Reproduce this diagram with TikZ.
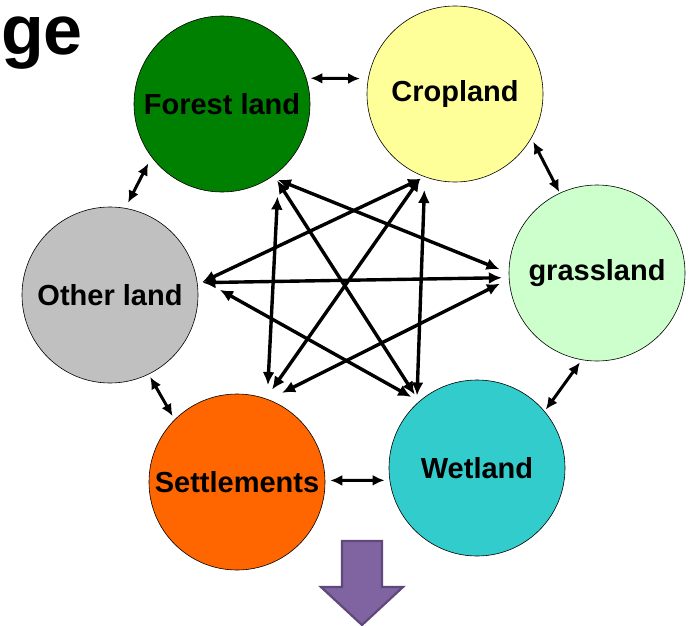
\documentclass[tikz,border=0pt]{standalone}
\usepackage{fontspec}
\setmainfont{Liberation Sans}
\usetikzlibrary{arrows.meta}
\definecolor{forestc}{RGB}{0,128,0}
\definecolor{cropc}{RGB}{255,255,153}
\definecolor{grassc}{RGB}{204,255,204}
\definecolor{otherc}{RGB}{192,192,192}
\definecolor{settlec}{RGB}{255,102,0}
\definecolor{wetc}{RGB}{51,204,204}
\definecolor{arrowfill}{RGB}{128,100,162}
\definecolor{arrowline}{RGB}{95,73,122}
\begin{document}
\begin{tikzpicture}[x=1pt,y=-1pt,
  land/.style={circle, draw=black, line width=0.6pt, minimum size=176pt, inner sep=0pt,
    font=\fontsize{29}{32}\selectfont\bfseries, text=black},
  link/.style={line width=3pt, {Latex[length=12pt,width=11pt]}-{Latex[length=12pt,width=11pt]}},
  cross/.style={line width=3.4pt, {Latex[length=13pt,width=12pt]}-{Latex[length=13pt,width=12pt]}},
  bigarrow/.style={fill=arrowfill, draw=arrowline, line width=2.2pt, line join=miter}
]
\useasboundingbox (0,0) rectangle (693,626);
\fill[white] (0,0) rectangle (693,626);

\node[anchor=base west, inner sep=0pt, font=\fontsize{70}{74}\selectfont\bfseries] (title) at (1,55) {ge};

\node[land, fill=forestc] (forest) at (222,104) {Forest land};
\node[land, fill=cropc]   (crop)   at (455,94)  {Cropland};
\node[land, fill=grassc]  (grass)  at (597,273) {grassland};
\node[land, fill=otherc]  (other)  at (110,295) {Other land};
\node[land, fill=settlec] (settle) at (237,482) {Settlements};
\node[land, fill=wetc]    (wet)    at (477,468) {Wetland};

% neighbours
\draw[link, shorten <=4pt, shorten >=8pt] (forest.17) -- (crop.170);
\draw[link, shorten <=4pt, shorten >=1pt] (crop.-30) -- (grass.115);
\draw[link, shorten <=3pt, shorten >=2pt] (grass.-100) -- (wet.40);
\draw[link, shorten <=5pt, shorten >=5pt] (settle.1) -- (wet.188);
\draw[link, shorten <=3pt, shorten >=4pt] (other.-64) -- (settle.135);
\draw[link, shorten <=7pt, shorten >=6pt] (forest.217) -- (other.80);

% cross links
\draw[cross, shorten <=7pt, shorten >=10pt] (forest.-56) -- (grass.180);
\draw[cross, shorten <=6pt, shorten >=8pt]  (forest.-54) -- (wet.131);
\draw[cross, shorten <=25pt, shorten >=14pt] (forest.-50) -- (settle.70);
\draw[cross, shorten <=4pt, shorten >=5pt]  (crop.-110) -- (other.7);
\draw[cross, shorten <=3pt, shorten >=11pt] (crop.-112) -- (settle.71);
\draw[cross, shorten <=13pt, shorten >=8pt] (crop.-110) -- (wet.133);
\draw[cross, shorten <=7pt, shorten >=5pt]  (grass.183) -- (other.8);
\draw[cross, shorten <=10pt, shorten >=15pt] (grass.184) -- (settle.69);
\draw[cross, shorten <=9pt, shorten >=27pt] (wet.131) -- (other.12);

% big down arrow
\draw[bigarrow] (342,541) -- (382,541) -- (382,587) -- (403,587) -- (362,625) -- (321,587) -- (342,587) -- cycle;
\end{tikzpicture}
\end{document}
